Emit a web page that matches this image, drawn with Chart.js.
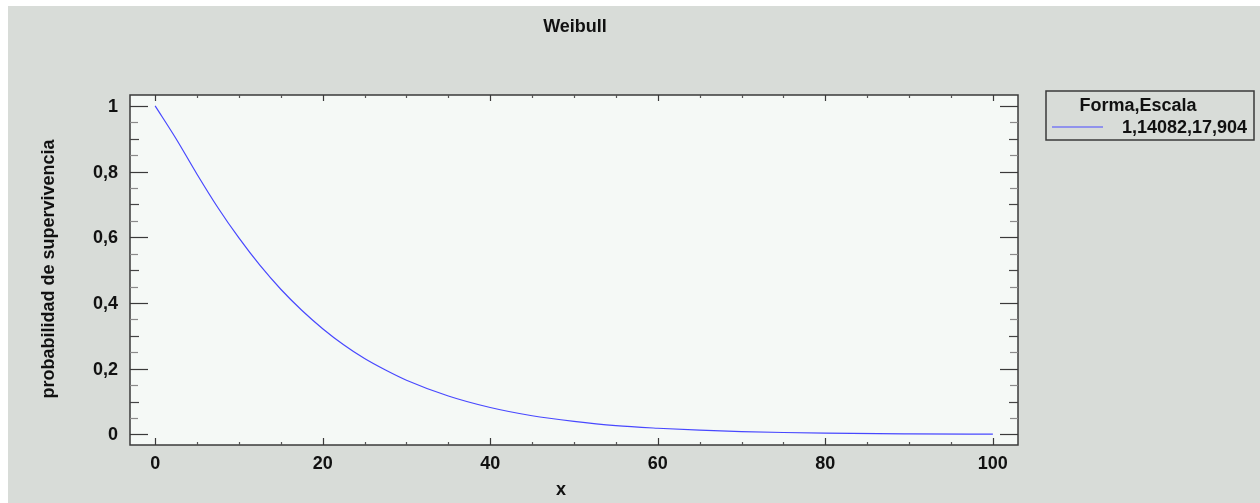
<!DOCTYPE html>
<html>
<head>
<meta charset="utf-8">
<script src="https://cdn.jsdelivr.net/npm/chart.js@4.4.1/dist/chart.umd.min.js"></script>
<style>
    html, body { margin: 0; padding: 0; background: #ffffff; }
    #wrap { width: 1260px; height: 503px; position: relative; }
</style>
</head>
<body>
<div id="wrap"><canvas id="myChart"></canvas></div>
<script>
    // Weibull survival curve
    var xVals = [0, 2.5, 5, 7.5, 10, 12.5, 15, 17.5, 20, 22.5, 25, 27.5, 30, 35, 40, 45, 50, 55, 60, 65, 70, 75, 80, 90, 100];
    var survival = [1, 0.900, 0.792, 0.690, 0.598, 0.515, 0.442, 0.378, 0.322, 0.273, 0.231, 0.196, 0.165, 0.117, 0.082, 0.057, 0.040, 0.027, 0.019, 0.013, 0.009, 0.006, 0.004, 0.002, 0.001];

    var xTicks = [0, 20, 40, 60, 80, 100];
    var xTickLabels = ['0', '20', '40', '60', '80', '100'];
    var yTicks = [0, 0.2, 0.4, 0.6, 0.8, 1];
    var yTickLabels = ['0', '0,2', '0,4', '0,6', '0,8', '1'];

    var chartTitle = 'Weibull';
    var xTitle = 'x';
    var yTitle = 'probabilidad de supervivencia';
    var legendTitle = 'Forma,Escala';
    var seriesLabel = '1,14082,17,904';

    var FONT = 'bold 18px "Liberation Sans", Arial, sans-serif';
    var BG = '#d8dcd8';
    var PLOT_BG = '#f5f9f6';
    var AXIS = '#3a3a3a';
    var LINE = '#4848ff';

    var pts = [];
    for (var i = 0; i < xVals.length; i++) {
        pts.push({ x: xVals[i], y: survival[i] });
    }

    function line(ctx, x1, y1, x2, y2) {
        ctx.beginPath();
        ctx.moveTo(x1, y1);
        ctx.lineTo(x2, y2);
        ctx.stroke();
    }

    var frame = {
        id: 'frame',
        beforeDraw: function (chart) {
            var ctx = chart.ctx;
            var a = chart.chartArea;
            ctx.save();
            ctx.fillStyle = '#ffffff';
            ctx.fillRect(0, 0, chart.width, chart.height);
            ctx.fillStyle = BG;
            ctx.fillRect(8, 6, chart.width - 8, chart.height - 6);
            ctx.fillStyle = PLOT_BG;
            ctx.fillRect(a.left, a.top, a.right - a.left, a.bottom - a.top);
            ctx.restore();
        },
        afterDatasetsDraw: function (chart) {
            var ctx = chart.ctx;
            var a = chart.chartArea;
            var sx = chart.scales.x;
            var sy = chart.scales.y;
            ctx.save();

            // frame
            ctx.strokeStyle = AXIS;
            ctx.lineWidth = 1.5;
            ctx.strokeRect(a.left, a.top, a.right - a.left, a.bottom - a.top);

            // x ticks, bottom and top, inward
            ctx.lineWidth = 1.2;
            for (var v = 0; v <= 100; v += 5) {
                var px = Math.round(sx.getPixelForValue(v)) + 0.5;
                var major = v % 20 === 0;
                ctx.strokeStyle = major ? AXIS : '#555555';
                line(ctx, px, a.bottom, px, a.bottom - (major ? 7 : 3));
                line(ctx, px, a.top, px, a.top + (major ? 6 : 3));
            }

            // y ticks, left and right, inward
            for (var k = 0; k <= 20; k++) {
                var val = k * 0.05;
                var py = Math.round(sy.getPixelForValue(val)) + 0.5;
                var len, col;
                if (k % 4 === 0) { len = 18; col = AXIS; }
                else if (k % 2 === 0) { len = 9; col = '#444444'; }
                else { len = 8; col = '#8a8a8a'; }
                ctx.strokeStyle = col;
                line(ctx, a.left, py, a.left + len, py);
                line(ctx, a.right, py, a.right - len, py);
            }

            // tick labels
            ctx.fillStyle = '#111111';
            ctx.font = FONT;
            ctx.textAlign = 'center';
            ctx.textBaseline = 'alphabetic';
            for (var j = 0; j < xTicks.length; j++) {
                ctx.fillText(xTickLabels[j], sx.getPixelForValue(xTicks[j]), a.bottom + 24);
            }
            ctx.textAlign = 'right';
            ctx.textBaseline = 'middle';
            for (var m = 0; m < yTicks.length; m++) {
                ctx.fillText(yTickLabels[m], a.left - 12, sy.getPixelForValue(yTicks[m]) + 1);
            }

            // titles
            ctx.textAlign = 'center';
            ctx.textBaseline = 'alphabetic';
            ctx.fillText(chartTitle, 575, 32);
            ctx.fillText(xTitle, 561, 495);
            ctx.save();
            ctx.translate(54, 269);
            ctx.rotate(-Math.PI / 2);
            ctx.fillText(yTitle, 0, 0);
            ctx.restore();

            // legend box
            ctx.strokeStyle = AXIS;
            ctx.lineWidth = 1.5;
            ctx.strokeRect(1046, 91, 208, 49);
            ctx.fillText(legendTitle, 1138, 111);
            ctx.strokeStyle = LINE;
            ctx.lineWidth = 1.2;
            line(ctx, 1052, 127, 1103, 127);
            ctx.textAlign = 'right';
            ctx.fillText(seriesLabel, 1247, 133);

            ctx.restore();
        }
    };

    var myChart = new Chart(document.getElementById('myChart').getContext('2d'), {
        type: 'line',
        data: {
            datasets: [{
                label: seriesLabel,
                data: pts,
                borderColor: LINE,
                borderWidth: 1.2,
                pointRadius: 0,
                fill: false,
                cubicInterpolationMode: 'monotone'
            }]
        },
        options: {
            responsive: true,
            maintainAspectRatio: false,
            animation: false,
            layout: { padding: { left: 130, top: 95, right: 242, bottom: 58 } },
            plugins: {
                legend: { display: false },
                title: { display: false },
                tooltip: { enabled: false }
            },
            scales: {
                x: { type: 'linear', min: -3, max: 103, display: false },
                y: { type: 'linear', min: -0.032, max: 1.033, display: false }
            }
        },
        plugins: [frame]
    });
</script>
</body>
</html>
